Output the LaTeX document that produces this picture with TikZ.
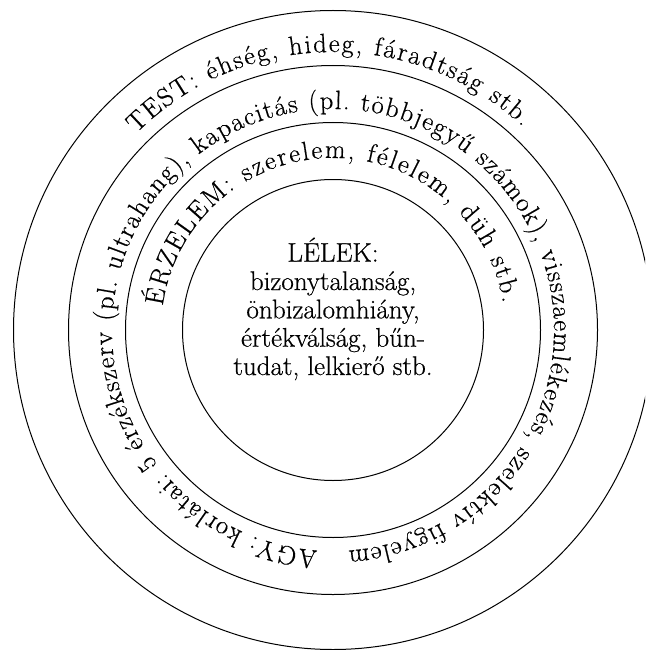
\documentclass[tikz,border=0pt]{standalone}
\usepackage{fontspec}
\setmainfont{Latin Modern Roman}[FakeBold=0.5]
\usetikzlibrary{decorations.text}
\newcommand\ringfont{\fontsize{26.5pt}{30pt}\selectfont}
\newcommand\corefont{\fontsize{27pt}{28.3pt}\selectfont}
\tikzset{
  ring/.style={line width=1pt},
  ringtext/.style={decorate, decoration={text along path, text align={fit to path}, text={#1}}},
  coreline/.style={anchor=base, inner sep=0pt, font=\corefont},
}
\begin{document}
\begin{tikzpicture}
\useasboundingbox (0,0) rectangle (645pt,-650pt);
\fill[white] (0,0) rectangle (645pt,-650pt);
\clip (0,0) rectangle (645pt,-650pt);
\begin{scope}[shift={(333pt,-330pt)}]
  \draw[ring] (0,0) circle[radius=319.5pt];
  \draw[ring] (0,0) circle[radius=264.5pt];
  \draw[ring] (0,0) circle[radius=207.5pt];
  \draw[ring] (0,0) circle[radius=150.5pt];
  \path[ringtext={|\ringfont|TEST: éhség, hideg, fáradtság stb.}]
    (135:278pt) arc[start angle=135, end angle=47, radius=278pt];
  \path[ringtext={|\ringfont|AGY: korlátai: 5 érzékszerv (pl. ultrahang), kapacitás (pl. többjegyű számok), visszaemlékezés, szelektív figyelem}]
    (266:221pt) arc[start angle=266, end angle=-86, radius=221pt];
  \path[ringtext={|\ringfont|ÉRZELEM: szerelem, félelem, düh stb.}]
    (172:172pt) arc[start angle=172, end angle=9, radius=172pt];
  \node[coreline] (l1) at (0,68.3pt) {LÉLEK:};
  \node[coreline] (l2) at (0,40pt) {bizonytalanság,};
  \node[coreline] (l3) at (0,11.7pt) {önbizalomhiány,};
  \node[coreline] (l4) at (0,-16.7pt) {értékválság, bűn-};
  \node[coreline] (l5) at (0,-45pt) {tudat, lelkierő stb.};
\end{scope}
\end{tikzpicture}
\end{document}
